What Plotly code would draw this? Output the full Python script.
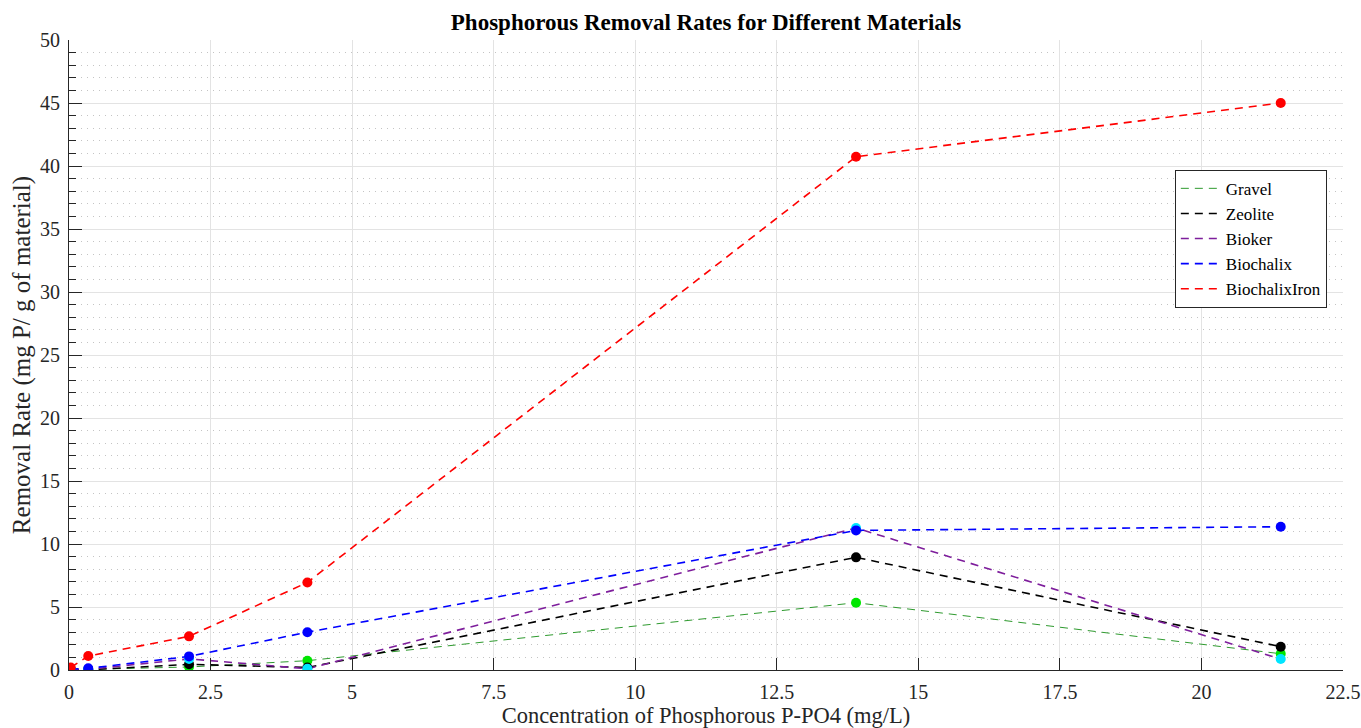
import plotly.graph_objects as go

conc = [0.03, 0.34, 2.12, 4.21, 13.9, 21.4]

gravel = [0.0, 0.05, 0.24, 0.74, 5.34, 1.29]
zeolite = [0.0, 0.02, 0.45, 0.2, 8.94, 1.85]
bioker = [0.03, 0.05, 0.88, 0.1, 11.27, 0.87]
biochalix = [0.08, 0.13, 1.08, 3.0, 11.08, 11.37]
biochalix_iron = [0.2, 1.11, 2.67, 6.95, 40.74, 45.0]

names = ["Gravel", "Zeolite", "Bioker", "Biochalix", "BiochalixIron"]
series = [gravel, zeolite, bioker, biochalix, biochalix_iron]
line_colors = ["#2e9a2e", "#000000", "#7e1e9c", "#0000ff", "#ff0000"]
line_widths = [1.0, 1.6, 1.6, 1.6, 1.6]
marker_colors = ["#00e600", "#000000", "#00e5ff", "#0000ff", "#ff0000"]

FONT = "Liberation Serif, Times New Roman, serif"

fig = go.Figure()
for n, s, lc, lw in zip(names, series, line_colors, line_widths):
    fig.add_trace(go.Scatter(x=conc, y=s, mode="lines", name=n,
                             line=dict(color=lc, width=lw, dash="8px,6px")))
for n, s, mc in zip(names, series, marker_colors):
    fig.add_trace(go.Scatter(x=conc, y=s, mode="markers", name=n + " points",
                             showlegend=False,
                             marker=dict(color=mc, size=10)))

fig.update_layout(
    width=1361, height=728,
    margin=dict(l=69, r=18, t=40, b=58),
    plot_bgcolor="white", paper_bgcolor="white",
    font=dict(family=FONT, color="#262626", size=20),
    title=dict(text="<b>Phosphorous Removal Rates for Different Materials</b>",
               x=0.5, xanchor="center", xref="paper", y=0.97, yanchor="middle",
               font=dict(family=FONT, size=23, color="#000000")),
    legend=dict(x=0.868, y=0.794, xanchor="left", yanchor="top",
                bgcolor="white", bordercolor="#262626", borderwidth=1,
                font=dict(family=FONT, size=17, color="#000000"),
                tracegroupgap=0, itemwidth=40),
    showlegend=True,
)

fig.update_xaxes(
    range=[0, 22.5], tickmode="array", automargin=False,
    tickvals=[0, 2.5, 5, 7.5, 10, 12.5, 15, 17.5, 20, 22.5],
    ticktext=["0", "2.5", "5", "7.5", "10", "12.5", "15", "17.5", "20", "22.5"],
    ticks="inside", ticklen=12, tickcolor="#262626", tickwidth=1,
    ticklabelstandoff=4,
    showline=True, linecolor="#262626", linewidth=1,
    showgrid=True, gridcolor="#e3e3e3", gridwidth=1.3,
    zeroline=False,
    tickfont=dict(family=FONT, size=20, color="#262626"),
    title=dict(text="Concentration of Phosphorous P-PO4 (mg/L)",
               font=dict(family=FONT, size=22.5, color="#262626"), standoff=4),
)
fig.update_yaxes(
    range=[0, 50], tickmode="array", automargin=False,
    tickvals=list(range(0, 51, 5)),
    ticks="inside", ticklen=13, tickcolor="#262626", tickwidth=1,
    ticklabelstandoff=4,
    showline=True, linecolor="#262626", linewidth=1,
    showgrid=True, gridcolor="#e3e3e3", gridwidth=1.3,
    zeroline=False,
    minor=dict(dtick=1, ticks="inside", ticklen=7, tickcolor="#262626",
               showgrid=True, gridcolor="#c4c4c4", griddash="1px,5px", gridwidth=1),
    tickfont=dict(family=FONT, size=20, color="#262626"),
    title=dict(text="Removal Rate (mg P/ g of material)",
               font=dict(family=FONT, size=25, color="#262626"), standoff=2),
)

fig.write_html("out.html")
